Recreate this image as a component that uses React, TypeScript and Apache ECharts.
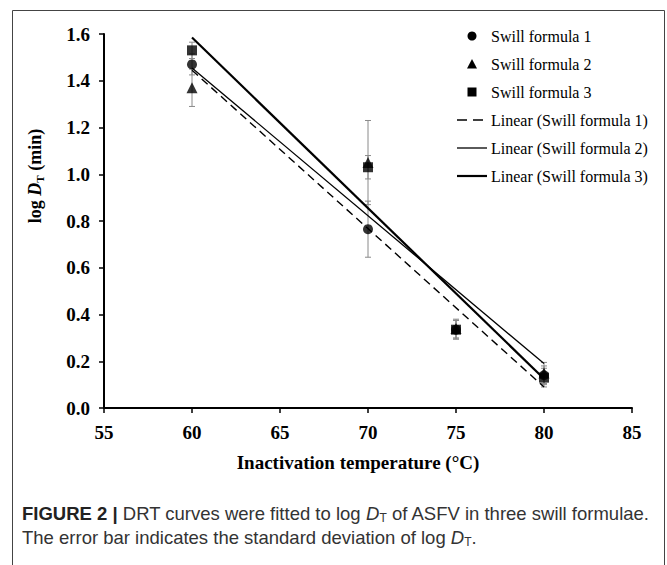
import React, { useEffect, useRef } from "react";
import * as echarts from "echarts";

const temperatures = [60, 70, 75, 80];
const formula1 = [1.47, 0.765, 0.335, 0.14];
const formula2 = [1.37, 1.05, 0.34, 0.15];
const formula3 = [1.53, 1.03, 0.335, 0.13];
const sd1 = [0.045, 0.12, 0.04, 0.04];
const sd2 = [0.08, 0.18, 0.04, 0.045];
const sd3 = [0.035, 0.05, 0.04, 0.04];
const fitX = [60, 80];
const fit1 = [1.445, 0.09];
const fit2 = [1.455, 0.19];
const fit3 = [1.585, 0.125];
const pointNames = ["Swill formula 1", "Swill formula 2", "Swill formula 3"];
const lineNames = [
  "Linear (Swill formula 1)",
  "Linear (Swill formula 2)",
  "Linear (Swill formula 3)",
];

const SERIF = "'Liberation Serif', 'Times New Roman', serif";
const SANS = "'Liberation Sans', Arial, sans-serif";

function pairs(xs: number[], ys: number[]) {
  return xs.map((x, i) => [x, ys[i]]);
}
function bars(xs: number[], ys: number[], sd: number[]) {
  return xs.map((x, i) => [x, ys[i] - sd[i], ys[i] + sd[i]]);
}

const errorRender = (params: any, api: any) => {
  const x = api.value(0);
  const lo = api.coord([x, api.value(1)]);
  const hi = api.coord([x, api.value(2)]);
  const w = 3;
  const style = { stroke: "#8a8a8a", lineWidth: 1 };
  return {
    type: "group",
    children: [
      { type: "line", shape: { x1: lo[0], y1: lo[1], x2: hi[0], y2: hi[1] }, style },
      { type: "line", shape: { x1: lo[0] - w, y1: lo[1], x2: lo[0] + w, y2: lo[1] }, style },
      { type: "line", shape: { x1: hi[0] - w, y1: hi[1], x2: hi[0] + w, y2: hi[1] }, style },
    ],
  };
};

export default function App() {
  const ref = useRef<HTMLDivElement>(null);
  useEffect(() => {
    if (!ref.current) return;
    const chart = echarts.init(ref.current, null, { renderer: "svg" });
    const errSeries = [
      [formula1, sd1],
      [formula2, sd2],
      [formula3, sd3],
    ].map(([ys, sd]) => ({
      type: "custom",
      renderItem: errorRender,
      data: bars(temperatures, ys as number[], sd as number[]),
      encode: { x: 0, y: [1, 2] },
      z: 1,
      silent: true,
    }));
    const symbols = ["circle", "triangle", "rect"];
    const sizes = [10, 11, 10];
    const pointSeries = [formula1, formula2, formula3].map((ys, i) => ({
      type: "scatter",
      name: pointNames[i],
      data: pairs(temperatures, ys),
      symbol: symbols[i],
      symbolSize: sizes[i],
      itemStyle: { color: "#000" },
      z: 4,
    }));
    const lineStyles = [
      { color: "#000", width: 1.4, type: [8, 5] },
      { color: "#000", width: 1.3, type: "solid" },
      { color: "#000", width: 2.2, type: "solid" },
    ];
    const lineSeries = [fit1, fit2, fit3].map((ys, i) => ({
      type: "line",
      name: lineNames[i],
      data: pairs(fitX, ys),
      symbol: "none",
      lineStyle: lineStyles[i],
      itemStyle: { color: "#000" },
      z: 3,
    }));

    // legend drawn as graphic items
    const legX = 457;
    const textX = 491;
    const rowY = (i: number) => 36 + i * 28;
    const legendText = (label: string, i: number) => ({
      type: "text",
      x: textX,
      y: rowY(i),
      style: {
        text: label,
        fontFamily: SERIF,
        fontSize: 16,
        fill: "#000",
        align: "left",
        verticalAlign: "middle",
      },
    });
    const cx = 472;
    const legendGraphics: any[] = [
      { type: "circle", shape: { cx, cy: rowY(0), r: 4.5 }, style: { fill: "#000" } },
      {
        type: "polygon",
        shape: { points: [[cx - 5, rowY(1) + 4.5], [cx + 5, rowY(1) + 4.5], [cx, rowY(1) - 5]] },
        style: { fill: "#000" },
      },
      { type: "rect", shape: { x: cx - 4.5, y: rowY(2) - 4.5, width: 9, height: 9 }, style: { fill: "#000" } },
      {
        type: "line",
        shape: { x1: legX, y1: rowY(3), x2: legX + 30, y2: rowY(3) },
        style: { stroke: "#000", lineWidth: 1.4, lineDash: [10, 6] },
      },
      {
        type: "line",
        shape: { x1: legX, y1: rowY(4), x2: legX + 30, y2: rowY(4) },
        style: { stroke: "#000", lineWidth: 1.3 },
      },
      {
        type: "line",
        shape: { x1: legX, y1: rowY(5), x2: legX + 30, y2: rowY(5) },
        style: { stroke: "#000", lineWidth: 2.2 },
      },
      ...[...pointNames, ...lineNames].map((n, i) => legendText(n, i)),
    ];

    const capN = { fontFamily: SANS, fontSize: 18.5, fill: "#333", lineHeight: 22, verticalAlign: "middle" };
    const capI = { ...capN, fontStyle: "italic" };
    const capS = { fontFamily: SANS, fontSize: 12, fill: "#333", lineHeight: 22, verticalAlign: "bottom" };

    chart.setOption({
      animation: false,
      backgroundColor: "#fff",
      grid: { left: 104, right: 35, top: 34, bottom: 157, containLabel: false },
      xAxis: {
        type: "value",
        min: 55,
        max: 85,
        interval: 5,
        axisLine: { lineStyle: { color: "#000", width: 2 } },
        axisTick: { length: 5, lineStyle: { color: "#000", width: 1.5 } },
        axisLabel: {
          margin: 15,
          color: "#000",
          fontFamily: SERIF,
          fontWeight: "bold",
          fontSize: 19,
        },
        splitLine: { show: false },
      },
      yAxis: {
        type: "value",
        min: 0,
        max: 1.6,
        interval: 0.2,
        axisLine: { show: true, lineStyle: { color: "#000", width: 2 } },
        axisTick: { show: true, length: 5, lineStyle: { color: "#000", width: 1.5 } },
        axisLabel: {
          margin: 14,
          color: "#000",
          fontFamily: SERIF,
          fontWeight: "bold",
          fontSize: 19,
          formatter: (v: number) => v.toFixed(1),
        },
        splitLine: { show: false },
      },
      graphic: [
        {
          type: "rect",
          silent: true,
          z: -10,
          shape: { x: 12.5, y: 10.5, width: 652, height: 600 },
          style: { fill: "none", stroke: "#444", lineWidth: 1 },
        },
        ...legendGraphics,
        {
          type: "text",
          x: 358,
          y: 462,
          style: {
            text: "Inactivation temperature (°C)",
            fontFamily: SERIF,
            fontWeight: "bold",
            fontSize: 19,
            fill: "#000",
            align: "center",
            verticalAlign: "middle",
          },
        },
        {
          type: "text",
          x: 35,
          y: 176,
          rotation: Math.PI / 2,
          style: {
            text: "{b|log }{i|D}{s|T}{b| (min)}",
            align: "center",
            verticalAlign: "middle",
            rich: {
              b: { fontFamily: SERIF, fontWeight: "bold", fontSize: 18, fill: "#000", lineHeight: 22, verticalAlign: "middle" },
              i: { fontFamily: SERIF, fontWeight: "bold", fontStyle: "italic", fontSize: 18, fill: "#000", lineHeight: 22, verticalAlign: "middle" },
              s: { fontFamily: SERIF, fontWeight: "bold", fontSize: 11, fill: "#000", lineHeight: 22, verticalAlign: "bottom", padding: [0, 0, 1, 0] },
            },
          },
        },
        {
          type: "text",
          x: 22,
          y: 513,
          style: {
            text: "{b|FIGURE 2 | }{n|DRT curves were fitted to log }{i|D}{s|T}{n| of ASFV in three swill formulae.}",
            align: "left",
            verticalAlign: "middle",
            rich: {
              b: { ...capN, fontWeight: "bold", fill: "#222" },
              n: capN,
              i: capI,
              s: capS,
            },
          },
        },
        {
          type: "text",
          x: 22,
          y: 537,
          style: {
            text: "{n|The error bar indicates the standard deviation of log }{i|D}{s|T}{n|.}",
            align: "left",
            verticalAlign: "middle",
            rich: { n: capN, i: capI, s: capS },
          },
        },
      ],
      series: [...errSeries, ...lineSeries, ...pointSeries],
    });
    return () => chart.dispose();
  }, []);
  return (
    <div
      ref={ref}
      style={{ position: "absolute", left: 0, top: 0, width: 667, height: 565 }}
    />
  );
}
